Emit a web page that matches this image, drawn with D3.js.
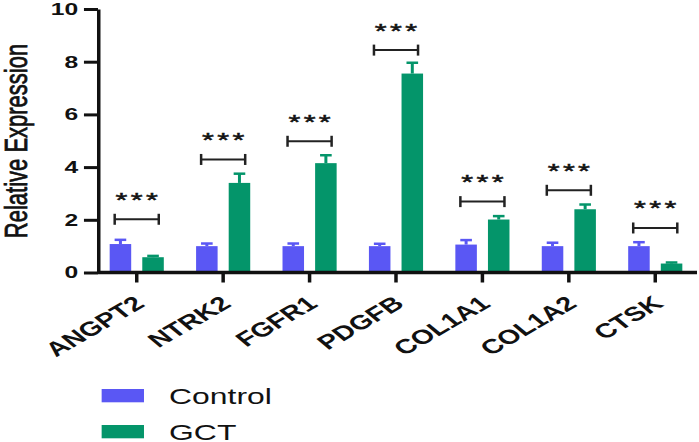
<!DOCTYPE html>
<html><head><meta charset="utf-8">
<script src="https://cdn.jsdelivr.net/npm/d3@7"></script>
<style>html,body{margin:0;padding:0;background:#fff;overflow:hidden}</style>
</head><body>
<svg id="c" width="699" height="442"></svg>
<script>
// ---- data ----
const categories = ["ANGPT2","NTRK2","FGFR1","PDGFB","COL1A1","COL1A2","CTSK"];
const series = ["Control","GCT"];
const controlMean = [1.08, 1.00, 1.00, 1.00, 1.06, 1.00, 1.00];
const controlErr  = [0.16, 0.10, 0.10, 0.09, 0.17, 0.13, 0.15];
const gctMean     = [0.58, 3.40, 4.15, 7.55, 2.01, 2.40, 0.34];
const gctErr      = [0.05, 0.35, 0.30, 0.41, 0.13, 0.18, 0.04];
const bracketLevel = [2.02, 4.29, 4.98, 8.44, 2.69, 3.12, 1.69];
const sigLabel = ["***","***","***","***","***","***","***"];
const yTicks = [0, 2, 4, 6, 8, 10];
const yLabel = "Relative Expression";

// ---- layout ----
const SX = 1.45;               // horizontal stretch of the reference
const W = 699 / SX, H = 442;
const colors = {Control: "#5a57f4", GCT: "#04956a"};
const FONT = "Liberation Sans, Arial, sans-serif";

const svg = d3.select("#c")
  .attr("viewBox", `0 0 ${W} ${H}`)
  .attr("preserveAspectRatio", "none");

const x0 = d3.scaleBand().domain(categories).range([64.5, 481.7]).padding(0);
const x1 = d3.scaleBand().domain(series).range([0, x0.bandwidth()])
  .paddingInner(0.34).paddingOuter(0.495);
const y = d3.scaleLinear().domain([0, 10]).range([272.5, 9]);
const axisX = 67.6;

const rows = categories.map((c, i) => ({
  cat: c,
  bars: [
    {s: "Control", v: controlMean[i], e: controlErr[i]},
    {s: "GCT", v: gctMean[i], e: gctErr[i]}
  ],
  br: bracketLevel[i], sig: sigLabel[i]
}));

const NS = "non-scaling-stroke";

// bars
const g = svg.append("g").selectAll("g").data(rows).join("g")
  .attr("transform", d => `translate(${x0(d.cat)},0)`);

g.selectAll("line.err").data(d => d.bars).join("line")
  .attr("class", "err")
  .attr("x1", d => x1(d.s) + x1.bandwidth()/2)
  .attr("x2", d => x1(d.s) + x1.bandwidth()/2)
  .attr("y1", d => y(d.v)).attr("y2", d => y(d.v + d.e))
  .attr("stroke", d => colors[d.s]).attr("stroke-width", 3).attr("vector-effect", NS);
g.selectAll("line.cap").data(d => d.bars).join("line")
  .attr("class", "cap")
  .attr("x1", d => x1(d.s) + x1.bandwidth()/2 - x1.bandwidth()*0.27)
  .attr("x2", d => x1(d.s) + x1.bandwidth()/2 + x1.bandwidth()*0.27)
  .attr("y1", d => y(d.v + d.e)).attr("y2", d => y(d.v + d.e))
  .attr("stroke", d => colors[d.s]).attr("stroke-width", 2.5).attr("vector-effect", NS);
g.selectAll("rect").data(d => d.bars).join("rect")
  .attr("x", d => x1(d.s)).attr("width", x1.bandwidth())
  .attr("y", d => y(d.v)).attr("height", d => y(0) - y(d.v))
  .attr("fill", d => colors[d.s]);

// significance brackets
const bw = 15.2;
const cx = x0.bandwidth()/2;
g.append("line")
  .attr("x1", cx - bw).attr("x2", cx + bw)
  .attr("y1", d => y(d.br)).attr("y2", d => y(d.br))
  .attr("stroke", "#222").attr("stroke-width", 2).attr("vector-effect", NS);
[-bw, bw].forEach(o => {
  g.append("line")
    .attr("x1", cx + o).attr("x2", cx + o)
    .attr("y1", d => y(d.br) - 5.5).attr("y2", d => y(d.br) + 5.5)
    .attr("stroke", "#222").attr("stroke-width", 2.5).attr("vector-effect", NS);
});
g.each(function(d) {
  const chars = d.sig.split("");
  const sel = d3.select(this);
  chars.forEach((ch, k) => {
    sel.append("text")
      .attr("x", cx + (k - (chars.length - 1)/2) * 10.5)
      .attr("y", y(d.br) - 25 + 12.5)
      .attr("text-anchor", "middle")
      .attr("font-family", FONT)
      .attr("font-size", 21).attr("fill", "#111")
      .attr("stroke", "#111").attr("stroke-width", 0.6).attr("vector-effect", NS)
      .text(ch);
  });
});

// y axis
const ya = svg.append("g").attr("transform", `translate(${axisX},0)`)
  .call(d3.axisLeft(y).tickValues(yTicks).tickSize(9.7).tickSizeOuter(0).tickPadding(4));
ya.select(".domain").attr("stroke", "#111").attr("stroke-width", 3.5).attr("vector-effect", NS);
ya.selectAll(".tick line").attr("stroke", "#111").attr("stroke-width", 3).attr("vector-effect", NS);
ya.selectAll(".tick text")
  .attr("font-family", FONT)
  .attr("font-weight", "bold").attr("font-size", 17).attr("fill", "#111");

// x axis
const xa = svg.append("g").attr("transform", `translate(0,${y(0)})`)
  .call(d3.axisBottom(x0).tickSize(10).tickSizeOuter(0));
xa.select(".domain").remove();
xa.append("line").attr("x1", axisX).attr("x2", 480.7).attr("y1", 0).attr("y2", 0)
  .attr("stroke", "#111").attr("stroke-width", 3.5).attr("vector-effect", NS);
xa.selectAll(".tick line").attr("stroke", "#111").attr("stroke-width", 3.5).attr("vector-effect", NS);
xa.selectAll(".tick text")
  .attr("x", 0).attr("y", 0).attr("dy", 0)
  .attr("text-anchor", "end")
  .attr("transform", "translate(6.5,33) rotate(-40)")
  .attr("font-family", FONT)
  .attr("font-weight", "bold").attr("font-size", 20).attr("fill", "#111");

// y label
svg.append("text")
  .attr("transform", "translate(18.5,141) rotate(-90)")
  .attr("text-anchor", "middle")
  .attr("font-family", FONT)
  .attr("font-size", 22).attr("fill", "#111")
  .attr("stroke", "#111").attr("stroke-width", 0.7).attr("vector-effect", NS)
  .text(yLabel);

// legend
const lg = svg.append("g").selectAll("g").data(series).join("g")
  .attr("transform", (d, i) => `translate(70.1,${389 + i*36})`);
lg.append("rect").attr("width", 29.2).attr("height", 13.3).attr("fill", d => colors[d]);
lg.append("text").attr("x", 46.5).attr("y", 15)
  .attr("font-family", FONT)
  .attr("font-size", 22).attr("fill", "#111").text(d => d);
</script>
</body></html>
